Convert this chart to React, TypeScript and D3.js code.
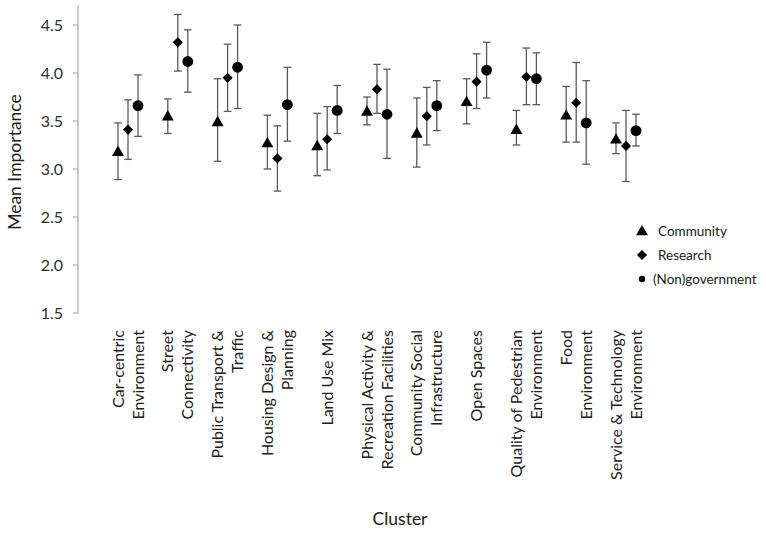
import React from "react";
import * as d3 from "d3";

const categories: string[][] = [
  ["Car-centric", "Environment"],
  ["Street", "Connectivity"],
  ["Public Transport &", "Traffic"],
  ["Housing Design &", "Planning"],
  ["Land Use Mix"],
  ["Physical Activity &", "Recreation Facilities"],
  ["Community Social", "Infrastructure"],
  ["Open Spaces"],
  ["Quality of Pedestrian", "Environment"],
  ["Food", "Environment"],
  ["Service & Technology", "Environment"],
];

const seriesNames = ["Community", "Research", "(Non)government"];

const communityMean = [3.18, 3.55, 3.49, 3.27, 3.24, 3.6, 3.37, 3.7, 3.41, 3.56, 3.31];
const communityLow = [2.89, 3.37, 3.08, 3.0, 2.93, 3.46, 3.02, 3.47, 3.25, 3.28, 3.16];
const communityHigh = [3.48, 3.73, 3.94, 3.56, 3.58, 3.75, 3.74, 3.94, 3.61, 3.86, 3.48];

const researchMean = [3.41, 4.32, 3.95, 3.11, 3.31, 3.83, 3.55, 3.91, 3.96, 3.69, 3.24];
const researchLow = [3.1, 4.02, 3.6, 2.77, 2.99, 3.58, 3.25, 3.63, 3.67, 3.28, 2.87];
const researchHigh = [3.72, 4.61, 4.3, 3.45, 3.65, 4.09, 3.85, 4.2, 4.26, 4.11, 3.61];

const govMean = [3.66, 4.12, 4.06, 3.67, 3.61, 3.57, 3.66, 4.03, 3.94, 3.48, 3.4];
const govLow = [3.34, 3.8, 3.63, 3.29, 3.37, 3.11, 3.4, 3.74, 3.67, 3.05, 3.24];
const govHigh = [3.98, 4.45, 4.5, 4.06, 3.87, 4.04, 3.92, 4.32, 4.21, 3.92, 3.57];

const yTicks = [1.5, 2.0, 2.5, 3.0, 3.5, 4.0, 4.5];

const FONT = "Lato, 'Open Sans', sans-serif";

const diamondPath = (size: number) =>
  d3.symbol().type(d3.symbolSquare).size(size)() as string;

export default function App() {
  const W = 766;
  const H = 533;
  const y = d3.scaleLinear().domain([1.5, 4.5]).range([313, 25]);
  const keys = categories.map((c) => c.join(" "));
  const x = d3.scalePoint<string>().domain(keys).range([128, 626]);
  const off = d3.scalePoint<string>().domain(seriesNames).range([-10, 10]);

  const series = [
    { name: seriesNames[0], mean: communityMean, low: communityLow, high: communityHigh, kind: "tri" },
    { name: seriesNames[1], mean: researchMean, low: researchLow, high: researchHigh, kind: "dia" },
    { name: seriesNames[2], mean: govMean, low: govLow, high: govHigh, kind: "cir" },
  ];

  const marker = (kind: string, legend = false) => {
    if (kind === "tri") return <path d={d3.symbol().type(d3.symbolTriangle).size(62)() as string} transform="translate(0,0.8)" fill="#000" />;
    if (kind === "dia") return <path d={diamondPath(52)} transform="rotate(45)" fill="#000" />;
    return <circle r={legend ? 3.2 : 5.4} fill="#000" />;
  };

  const errColor = "#595959";
  const capHalf = 3.8;

  return (
    <svg
      width={W}
      height={H}
      style={{ position: "absolute", left: 0, top: 0, background: "#fff" }}
      fontFamily={FONT}
    >
      {/* Y axis */}
      <line x1={78} x2={78} y1={5} y2={y(1.5)} stroke="#9a9a9a" strokeWidth={1} />
      {yTicks.map((t) => (
        <g key={t}>
          <line x1={73} x2={78} y1={y(t)} y2={y(t)} stroke="#9a9a9a" />
          <text x={63} y={y(t)} dy="0.36em" textAnchor="end" fontSize={16} fill="#303030">
            {d3.format(".1f")(t)}
          </text>
        </g>
      ))}
      <text
        transform={`translate(21,162) rotate(-90)`}
        textAnchor="middle"
        fontSize={17.5}
        fill="#202020"
      >
        Mean Importance
      </text>

      {/* Error bars and markers */}
      {series.map((s) => (
        <g key={s.name}>
          {keys.map((k, i) => {
            const cx = (x(k) as number) + (off(s.name) as number);
            return (
              <g key={k}>
                <line x1={cx} x2={cx} y1={y(s.low[i])} y2={y(s.high[i])} stroke={errColor} strokeWidth={1.3} />
                <line x1={cx - capHalf} x2={cx + capHalf} y1={y(s.low[i])} y2={y(s.low[i])} stroke={errColor} strokeWidth={1.3} />
                <line x1={cx - capHalf} x2={cx + capHalf} y1={y(s.high[i])} y2={y(s.high[i])} stroke={errColor} strokeWidth={1.3} />
                <g transform={`translate(${cx},${y(s.mean[i])})`}>{marker(s.kind)}</g>
              </g>
            );
          })}
        </g>
      ))}

      {/* Category labels */}
      {categories.map((lines, i) => {
        const cx = x(keys[i]) as number;
        const n = lines.length;
        return (
          <g key={i}>
            {lines.map((ln, j) => {
              const lx = cx + (j - (n - 1) / 2) * 20 + 5.5;
              return (
                <text
                  key={j}
                  transform={`translate(${lx},330) rotate(-90)`}
                  textAnchor="end"
                  fontSize={16}
                  fill="#202020"
                >
                  {ln}
                </text>
              );
            })}
          </g>
        );
      })}
      <text x={400} y={525} textAnchor="middle" fontSize={17.5} fill="#202020">
        Cluster
      </text>

      {/* Legend */}
      {series.map((s, i) => (
        <g key={s.name} transform={`translate(642,${231 + i * 24})`}>
          {marker(s.kind, true)}
          <text x={i === 2 ? 11 : 16} y={0} dy="0.35em" fontSize={13.5} fill="#202020">
            {s.name}
          </text>
        </g>
      ))}
    </svg>
  );
}
